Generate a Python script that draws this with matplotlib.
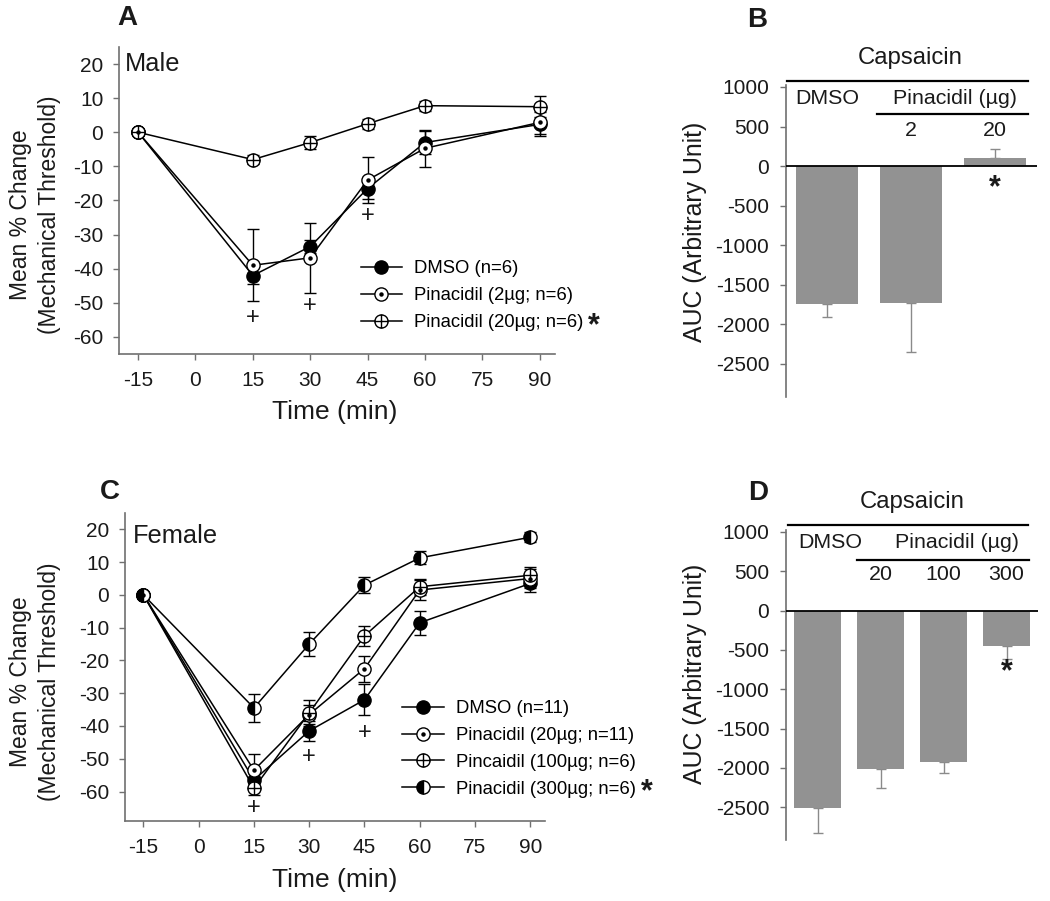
import matplotlib
matplotlib.use("Agg")
import matplotlib.pyplot as plt
from matplotlib.path import Path
from matplotlib.legend_handler import HandlerTuple
from matplotlib.transforms import blended_transform_factory

plt.rcParams['font.family'] = ['Liberation Sans', 'DejaVu Sans']
plt.rcParams['axes.unicode_minus'] = False

# ---------------- data ----------------
time_min = [-15, 15, 30, 45, 60, 90]
time_ticks = [-15, 0, 15, 30, 45, 60, 75, 90]

male_dmso = [0, -42, -33.5, -16.5, -3, 2.3]
male_dmso_err = [0, 2.5, 2, 3, 3.5, 3.5]
male_pin2 = [0, -39, -36.8, -14, -4.7, 2.9]
male_pin2_err = [0, 10.5, 10.2, 6.8, 5.5, 3.5]
male_pin20 = [0, -8, -3, 2.5, 7.8, 7.5]
male_pin20_err = [0, 1.2, 2, 1.5, 1.5, 3]
male_labels = ["DMSO (n=6)", "Pinacidil (2\u00b5g; n=6)", "Pinacidil (20\u00b5g; n=6)"]
male_plus_x = [15, 30, 45]
male_plus_y = [-54.5, -51, -24.5]

fem_dmso = [0, -56.5, -41.5, -32, -8.5, 3.5]
fem_dmso_err = [0, 2, 3, 4.7, 3.7, 2.5]
fem_pin20 = [0, -53.5, -36.5, -22.5, 1.5, 5]
fem_pin20_err = [0, 5, 3, 4, 3, 3]
fem_pin100 = [0, -59, -36, -12.5, 2.5, 6]
fem_pin100_err = [0, 2, 4, 3, 2.5, 2.5]
fem_pin300 = [0, -34.5, -15, 3, 11.3, 17.6]
fem_pin300_err = [0, 4.3, 3.7, 2.5, 2, 1.5]
fem_labels = ["DMSO (n=11)", "Pinacidil (20\u00b5g; n=11)", "Pincaidil (100\u00b5g; n=6)",
              "Pinacidil (300\u00b5g; n=6)"]
fem_plus_x = [15, 30, 45]
fem_plus_y = [-65, -49.5, -42]

auc_b_groups = ["DMSO", "2", "20"]
auc_b = [-1740, -1725, 100]
auc_b_err = [165, 625, 122]

auc_d_groups = ["DMSO", "20", "100", "300"]
auc_d = [-2510, -2010, -1920, -445]
auc_d_err = [315, 240, 145, 165]

auc_ticks = [1000, 500, 0, -500, -1000, -1500, -2000, -2500]

# ---------------- styles ----------------
W, H = 1050, 901
fig = plt.figure(figsize=(W / 100, H / 100), dpi=100)

def px_axes(l, t, r, b):
    return fig.add_axes([l / W, 1 - b / H, (r - l) / W, (b - t) / H])

def ftext(x, y, s, **kw):
    fig.text(x / W, 1 - y / H, s, **kw)

SPINE = '#707070'
TXT = '#1a1a1a'
MS = 9.5
LW = 1.1
TICK_FS = 15
LEG_FS = 13.3

circ = Path.unit_circle()
cross = Path([[-1, 0], [1, 0], [0, -1], [0, 1]],
             [Path.MOVETO, Path.LINETO, Path.MOVETO, Path.LINETO])
oplus = Path.make_compound_path(circ, cross)


def series(ax, y, err, kind):
    ax.errorbar(time_min, y, yerr=err, fmt='none', ecolor='black', elinewidth=1.0,
                capsize=4.5, capthick=1.0, zorder=2)
    if kind == 'filled':
        return ax.plot(time_min, y, color='black', lw=LW, marker='o', ms=MS,
                       mfc='black', mec='black', mew=1.0, zorder=3)[0]
    if kind == 'dot':
        h1 = ax.plot(time_min, y, color='black', lw=LW, marker='o', ms=MS,
                     mfc='white', mec='black', mew=1.0, zorder=3)[0]
        h2 = ax.plot(time_min, y, ls='none', marker='o', ms=2.2, mfc='black',
                     mec='black', zorder=4)[0]
        return (h1, h2)
    if kind == 'plus':
        return ax.plot(time_min, y, color='black', lw=LW, marker=oplus, ms=MS,
                       mfc='white', mec='black', mew=1.0, zorder=3)[0]
    if kind == 'half':
        return ax.plot(time_min, y, color='black', lw=LW, marker='o', ms=MS,
                       fillstyle='left', mfc='black', mfcalt='white', mec='black',
                       mew=1.0, zorder=3)[0]


def style_line_axes(ax, ylim):
    ax.set_xlim(-20, 94)
    ax.set_ylim(*ylim)
    for s in ['top', 'right']:
        ax.spines[s].set_visible(False)
    for s in ['left', 'bottom']:
        ax.spines[s].set_color(SPINE)
        ax.spines[s].set_linewidth(1.2)
    ax.set_xticks(time_ticks)
    ax.set_yticks(range(-60, 21, 10))
    ax.tick_params(direction='out', length=4.3, width=1.0, color=SPINE,
                   labelsize=TICK_FS, labelcolor=TXT)
    ax.tick_params(axis='x', pad=8)
    ax.tick_params(axis='y', pad=7)


# ---------------- Panel A ----------------
axA = px_axes(119, 47, 555, 354)
style_line_axes(axA, (-65, 25))
hA = [series(axA, male_dmso, male_dmso_err, 'filled'),
      series(axA, male_pin2, male_pin2_err, 'dot'),
      series(axA, male_pin20, male_pin20_err, 'plus')]
for px_, py_ in zip(male_plus_x, male_plus_y):
    axA.text(px_, py_, '+', ha='center', va='center', fontsize=17, color=TXT)
axA.legend(hA, male_labels, handler_map={tuple: HandlerTuple(ndivide=1)},
           loc='upper left', bbox_to_anchor=(361 / W, 1 - 260 / H),
           bbox_transform=fig.transFigure, frameon=False, fontsize=LEG_FS,
           handlelength=2.2, handletextpad=0.65, labelspacing=0.55,
           borderpad=0, borderaxespad=0)
ftext(594, 326, '*', fontsize=22, fontweight='bold', ha='center', va='center', color=TXT)
ftext(125, 64, 'Male', fontsize=18.3, ha='left', va='center', color=TXT)
ftext(335, 412, 'Time (min)', fontsize=19, ha='center', va='center', color=TXT)
ftext(35, 215, 'Mean % Change\n(Mechanical Threshold)', fontsize=16.5, rotation=90,
      ha='center', va='center', multialignment='center', linespacing=1.35, color=TXT)
ftext(127, 18, 'A', fontsize=20, fontweight='bold', ha='center', va='center', color=TXT)

# ---------------- Panel C ----------------
axC = px_axes(125, 513, 545, 821)
style_line_axes(axC, (-69, 25))
hC = [series(axC, fem_dmso, fem_dmso_err, 'filled'),
      series(axC, fem_pin20, fem_pin20_err, 'dot'),
      series(axC, fem_pin100, fem_pin100_err, 'plus'),
      series(axC, fem_pin300, fem_pin300_err, 'half')]
for px_, py_ in zip(fem_plus_x, fem_plus_y):
    axC.text(px_, py_, '+', ha='center', va='center', fontsize=17, color=TXT)
axC.legend(hC, fem_labels, handler_map={tuple: HandlerTuple(ndivide=1)},
           loc='upper left', bbox_to_anchor=(402 / W, 1 - 700 / H),
           bbox_transform=fig.transFigure, frameon=False, fontsize=LEG_FS,
           handlelength=2.3, handletextpad=0.6, labelspacing=0.54,
           borderpad=0, borderaxespad=0)
ftext(647, 792, '*', fontsize=22, fontweight='bold', ha='center', va='center', color=TXT)
ftext(133, 536, 'Female', fontsize=18.3, ha='left', va='center', color=TXT)
ftext(335, 880, 'Time (min)', fontsize=19, ha='center', va='center', color=TXT)
ftext(35, 682, 'Mean % Change\n(Mechanical Threshold)', fontsize=16.5, rotation=90,
      ha='center', va='center', multialignment='center', linespacing=1.35, color=TXT)
ftext(110, 492, 'C', fontsize=20, fontweight='bold', ha='center', va='center', color=TXT)


# ---------------- Bar panels ----------------
def style_bar_axes(ax, xlim):
    ax.set_xlim(*xlim)
    ax.set_ylim(-2917, 1025)
    for s in ['top', 'right', 'bottom']:
        ax.spines[s].set_visible(False)
    ax.spines['left'].set_color(SPINE)
    ax.spines['left'].set_linewidth(1.2)
    ax.set_xticks([])
    ax.set_yticks(auc_ticks)
    ax.tick_params(axis='y', direction='out', length=4, width=1.0, color=SPINE,
                   labelsize=TICK_FS, labelcolor=TXT, pad=8)
    ax.axhline(0, color='black', lw=1.3, zorder=3)


BAR = '#929292'
HDR_FS = 15.4

axB = px_axes(786, 85, 1037, 397)
xb = list(range(len(auc_b)))
style_bar_axes(axB, (-0.49, 2.5))
axB.bar(xb, auc_b, width=0.74, color=BAR, zorder=2)
errB_low = [e if v < 0 else 0 for v, e in zip(auc_b, auc_b_err)]
errB_high = [e if v >= 0 else 0 for v, e in zip(auc_b, auc_b_err)]
axB.errorbar(xb, auc_b, yerr=[errB_low, errB_high], fmt='none', ecolor='#8a8a8a',
             elinewidth=1.0, capsize=3.5, capthick=1.0, zorder=1)
trB = blended_transform_factory(axB.transData, fig.transFigure)
ftext(910, 58, 'Capsaicin', fontsize=17.2, ha='center', va='center', color=TXT)
fig.add_artist(plt.Line2D([787 / W, 1028 / W], [1 - 81 / H, 1 - 81 / H], color='black', lw=1.6))
axB.text(0, 1 - 98 / H, auc_b_groups[0], transform=trB, fontsize=HDR_FS,
         ha='center', va='center', color=TXT)
ftext(955, 98, 'Pinacidil (\u00b5g)', fontsize=HDR_FS, ha='center', va='center', color=TXT)
fig.add_artist(plt.Line2D([877 / W, 1028 / W], [1 - 114 / H, 1 - 114 / H], color='black', lw=1.6))
for xi, g in zip(xb[1:], auc_b_groups[1:]):
    axB.text(xi, 1 - 131 / H, g, transform=trB, fontsize=HDR_FS,
             ha='center', va='center', color=TXT)
axB.text(2, -280, '*', fontsize=22, fontweight='bold', ha='center', va='center', color=TXT)
ftext(695, 232, 'AUC (Arbitrary Unit)', fontsize=17.9, rotation=90, ha='center', va='center', color=TXT)
ftext(757, 20, 'B', fontsize=20, fontweight='bold', ha='center', va='center', color=TXT)

axD = px_axes(786, 530, 1038, 840)
xd = list(range(len(auc_d)))
style_bar_axes(axD, (-0.5, 3.5))
axD.bar(xd, auc_d, width=0.75, color=BAR, zorder=2)
axD.errorbar(xd, auc_d, yerr=[auc_d_err, [0] * len(auc_d)], fmt='none', ecolor='#8a8a8a',
             elinewidth=1.0, capsize=3.5, capthick=1.0, zorder=1)
trD = blended_transform_factory(axD.transData, fig.transFigure)
ftext(912, 502, 'Capsaicin', fontsize=17.2, ha='center', va='center', color=TXT)
fig.add_artist(plt.Line2D([788 / W, 1028 / W], [1 - 525 / H, 1 - 525 / H], color='black', lw=1.6))
ftext(830, 542, auc_d_groups[0], fontsize=HDR_FS, ha='center', va='center', color=TXT)
ftext(957, 542, 'Pinacidil (\u00b5g)', fontsize=HDR_FS, ha='center', va='center', color=TXT)
fig.add_artist(plt.Line2D([857 / W, 1029 / W], [1 - 560 / H, 1 - 560 / H], color='black', lw=1.6))
for xi, g in zip(xd[1:], auc_d_groups[1:]):
    axD.text(xi, 1 - 574 / H, g, transform=trD, fontsize=HDR_FS,
             ha='center', va='center', color=TXT)
axD.text(3, -780, '*', fontsize=22, fontweight='bold', ha='center', va='center', color=TXT)
ftext(695, 674, 'AUC (Arbitrary Unit)', fontsize=17.9, rotation=90, ha='center', va='center', color=TXT)
ftext(758, 493, 'D', fontsize=20, fontweight='bold', ha='center', va='center', color=TXT)

fig.savefig('out.png', dpi=100)
